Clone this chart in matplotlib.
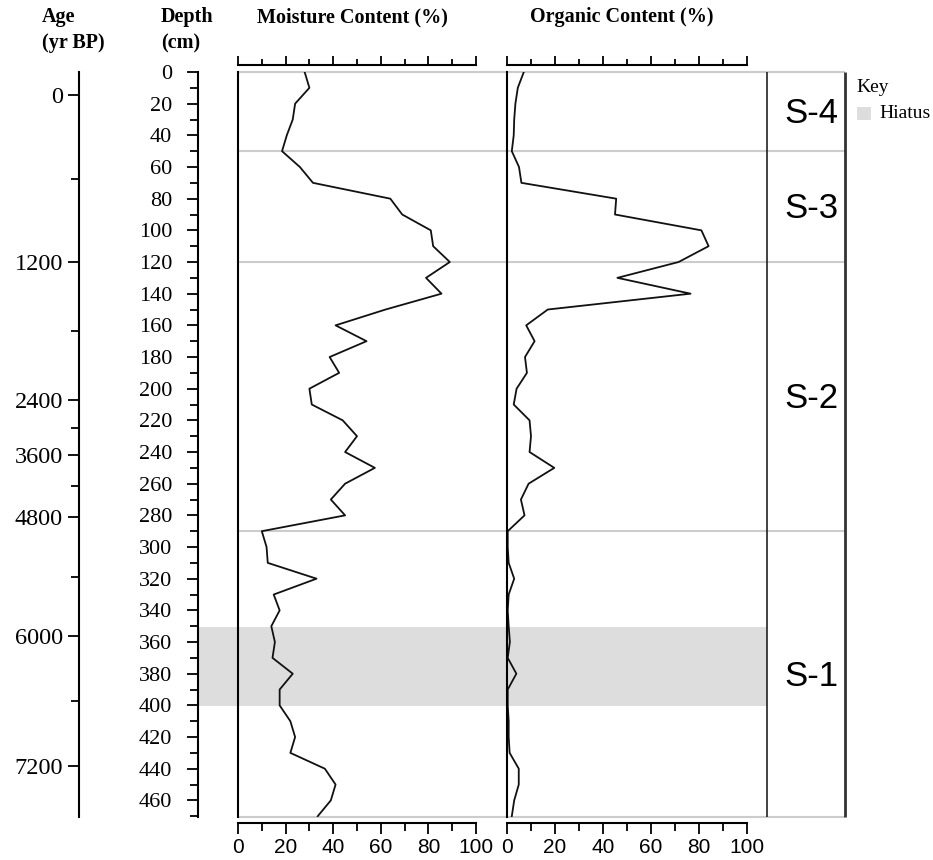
import numpy as np
import matplotlib; matplotlib.use("Agg")
import matplotlib.pyplot as plt
from matplotlib.patches import Rectangle

# sample depths (cm) and measured values
DEPTH = [0, 10, 20, 30, 40, 50, 60, 70, 80, 90, 100, 110, 120, 130, 140, 150,
         160, 170, 180, 190, 200, 210, 220, 230, 240, 250, 260, 270, 280, 290,
         300, 310, 320, 330, 340, 350, 360, 370, 380, 390, 400, 410, 420, 430,
         440, 450, 460, 470]
MOISTURE = [28, 30, 24, 23, 20.5, 18.5, 26, 31.5, 64, 69, 81, 82, 89, 79, 85.5, 62,
            41, 54, 38.5, 42.5, 30, 31, 44, 50, 45, 57.5, 45, 39, 45, 10,
            12, 12.5, 33, 15, 17.5, 14, 15.5, 14.5, 23, 17.5, 17.5, 22, 24, 22,
            36.5, 41, 39, 33.5]
ORGANIC = [7, 4.5, 3.5, 3, 2.8, 2, 5, 6, 45.5, 45, 81, 84, 71.5, 46, 76.5, 17,
           8, 11.5, 7.5, 8.3, 4, 2.8, 9.4, 10, 9.4, 19.7, 9, 5.8, 7.3, 0.3,
           0.3, 0.7, 3, 0.7, 0.3, 0.7, 1.2, 0.3, 3.9, 0.3, 0.3, 0.7, 0.7, 1.1,
           4.9, 4.9, 3, 2]

# age-depth model ticks (yr BP -> depth cm)
AGE_LABELED = ["0", "1200", "2400", "3600", "4800", "6000", "7200"]
AGE_LABELED_DEPTH = [14.7, 120.1, 207.3, 242.1, 281.2, 356.4, 438.5]
AGE_MINOR_DEPTH = [67.7, 163.7, 225.0, 261.7, 319.1, 397.4]

ZONE_BOUNDS = [0, 50, 120, 290, 470.5]
ZONE_NAMES = ["S-4", "S-3", "S-2", "S-1"]
HIATUS = (350.5, 400.5)

W, H = 933, 860
SERIF = "Liberation Serif"; SANS = "Liberation Sans"
Y0, Y1 = 72, 817           # pixel rows of depth 0 and bottom
YLIM = (470.5, 0)

def box(x0, x1, y0=Y0, y1=Y1):
    return [x0/W, 1-y1/H, (x1-x0)/W, (y1-y0)/H]

fig = plt.figure(figsize=(W/100, H/100), dpi=100)

# background: hiatus band, zone lines, right frame lines
bg = fig.add_axes(box(198, 845)); bg.axis("off")
bg.set_xlim(198, 845); bg.set_ylim(*YLIM)
bg.add_patch(Rectangle((198, HIATUS[0]), 767-198, HIATUS[1]-HIATUS[0], color="#dddddd", lw=0))
bg.hlines(ZONE_BOUNDS, 238, 845, color="#cccccc", lw=1.5, clip_on=False)
bg.vlines(767, 0, YLIM[0], color="#222222", lw=1.2, clip_on=False)
bg.vlines(845, 0, YLIM[0], color="#333333", lw=2.0, clip_on=False)
for (a, b), name in zip(zip(ZONE_BOUNDS[:-1], ZONE_BOUNDS[1:]), ZONE_NAMES):
    bg.text(811, (a+b)/2 + 1.5, name, ha="center", va="center", fontsize=25, family=SANS)

def left_axis(x, labels_pos, labels, minor_pos, pad, fs):
    ax = fig.add_axes(box(x, x+1)); ax.patch.set_alpha(0)
    for s in ("top", "right", "bottom"): ax.spines[s].set_visible(False)
    ax.spines["left"].set_linewidth(1.5)
    ax.set_xticks([]); ax.set_ylim(*YLIM)
    ax.set_yticks(labels_pos); ax.set_yticklabels(labels, family=SERIF, fontsize=fs)
    ax.set_yticks(minor_pos, minor=True)
    ax.tick_params(axis="y", which="major", length=8, width=1.3, pad=pad)
    ax.tick_params(axis="y", which="minor", length=5.5, width=1.3)
    return ax

left_axis(79, AGE_LABELED_DEPTH, AGE_LABELED, AGE_MINOR_DEPTH, 3.5, 17.5)
dmaj = DEPTH[:-1:2]
left_axis(198, dmaj, [str(d) for d in dmaj], DEPTH[1::2], 10.5, 16)

def panel(x0, x1, values):
    ax = fig.add_axes(box(x0, x1)); ax.patch.set_alpha(0)
    for s in ("top", "right", "bottom"): ax.spines[s].set_visible(False)
    ax.spines["left"].set_linewidth(1.5)
    ax.set_xlim(0, 100); ax.set_ylim(*YLIM)
    ax.set_xticks([]); ax.set_yticks([])
    ax.plot(values, DEPTH, color="#111111", lw=1.3)
    # top scale
    t = fig.add_axes([x0/W, 1-65/H, (x1-x0)/W, 1e-4]); t.patch.set_alpha(0)
    for s in ("left", "right", "bottom"): t.spines[s].set_visible(False)
    t.spines["top"].set_linewidth(1.5)
    t.set_xlim(0, 100); t.set_yticks([])
    t.xaxis.tick_top(); t.set_xticks(range(0, 101, 20)); t.set_xticks(range(10, 100, 20), minor=True)
    t.tick_params(axis="x", which="both", labeltop=False, direction="out", width=1.3)
    t.tick_params(axis="x", which="major", length=6.5); t.tick_params(axis="x", which="minor", length=4)
    # bottom scale
    b = fig.add_axes([x0/W, 1-823/H, (x1-x0)/W, 1e-4]); b.patch.set_alpha(0)
    for s in ("left", "right", "top"): b.spines[s].set_visible(False)
    b.spines["bottom"].set_linewidth(1.5)
    b.set_xlim(0, 100); b.set_yticks([])
    b.set_xticks(range(0, 101, 20)); b.set_xticks(range(10, 100, 20), minor=True)
    b.set_xticklabels([str(v) for v in range(0, 101, 20)], family=SANS, fontsize=15)
    b.tick_params(axis="x", which="both", width=1.3)
    b.tick_params(axis="x", which="major", length=8, pad=2.5); b.tick_params(axis="x", which="minor", length=5.5)

panel(238, 476, MOISTURE)
panel(507, 747, ORGANIC)

def ftext(x, y, s, **kw):
    fig.text(x/W, 1-y/H, s, va="center", **kw)

hb = dict(family=SERIF, fontsize=14.5, fontweight="bold")
ftext(42, 17, "Age", **hb); ftext(42, 43, "(yr BP)", **hb)
ftext(161, 17, "Depth", **hb); ftext(161, 43, "(cm)", **hb)
ftext(257, 17, "Moisture Content (%)", **hb)
ftext(530, 17, "Organic Content (%)", **hb)
ftext(856, 87, "Key", family=SERIF, fontsize=14)
ftext(879, 113, "Hiatus", family=SERIF, fontsize=14)
fig.patches.append(Rectangle((857/W, 1-120/H), 14/W, 13/H, transform=fig.transFigure,
                             color="#dddddd", lw=0))

fig.savefig("out.png", dpi=100)
